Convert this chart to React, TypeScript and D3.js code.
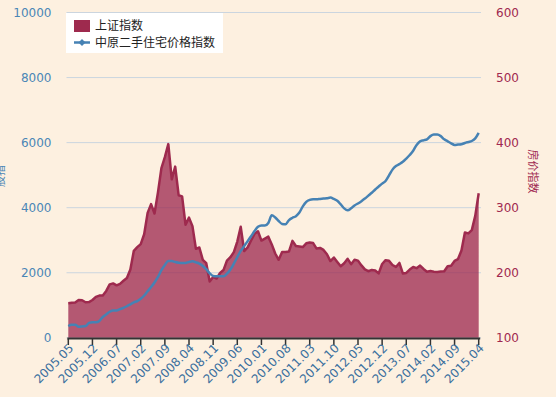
import React from 'react'
import * as d3 from 'd3'

// 2005.05 - 2015.04, monthly
const startYear = 2005
const startMonth = 5

const sseIndex = [
  1060, 1080, 1083, 1162, 1155, 1092, 1099, 1161,
  1258, 1299, 1298, 1440, 1641, 1672, 1612, 1658, 1752, 1837, 2099, 2675,
  2786, 2881, 3183, 3841, 4109, 3820, 4471, 5218, 5552, 5954, 4871, 5262,
  4383, 4348, 3473, 3693, 3433, 2736, 2776, 2397, 2293, 1729, 1871, 1821,
  1991, 2082, 2373, 2477, 2633, 2959, 3412, 2667, 2779, 2996, 3195, 3277,
  2989, 3051, 3109, 2871, 2592, 2398, 2638, 2639, 2656, 2979, 2820, 2808,
  2790, 2905, 2928, 2911, 2743, 2762, 2701, 2568, 2359, 2468, 2333, 2199,
  2292, 2428, 2263, 2397, 2373, 2225, 2103, 2047, 2086, 2069, 1980, 2269,
  2385, 2366, 2237, 2178, 2301, 1979, 1994, 2098, 2175, 2141, 2220, 2116,
  2033, 2056, 2033, 2026, 2039, 2048, 2202, 2217, 2364, 2420, 2683, 3235,
  3210, 3310, 3748, 4442,
]

const housePrice = [
  118, 120, 120, 117, 117.5, 118, 123, 124, 124, 126, 132, 136,
  140, 142, 142, 144, 146, 148.5, 151.5, 154.5, 156.5, 160, 165, 171.5,
  178, 185, 193.5, 204, 212, 218, 218, 216.5, 215.5, 215, 215, 216.5,
  217.5, 216, 214, 210.5, 205.5, 199, 195, 194.5, 194.5, 194.5, 198.5, 205,
  214, 224, 233.5, 241, 248.5, 256, 264, 270.5, 272.5, 272.5, 276.5, 288.5,
  285, 279.5, 275, 274.5, 281, 284.5, 287, 292.5, 302, 309, 312, 313,
  313, 313.5, 314, 314.5, 315.5, 313.5, 310.5, 305, 299, 296, 299, 303.5,
  306.5, 310, 314, 318.5, 323, 328, 332.5, 337, 341, 349.5, 358.5, 364,
  367, 370.5, 375.5, 381, 387.5, 396.5, 402, 403.5, 405, 410, 412.5, 412.5,
  410, 405, 402, 399, 396.5, 397, 397.5, 399.5, 401, 402.5, 406.5, 415,
]

const leftTicks = [0, 2000, 4000, 6000, 8000, 10000]
const rightTicks = [100, 200, 300, 400, 500, 600]
const tickStep = 7

const monthLabel = (i: number) => {
  const m0 = startMonth - 1 + i
  const y = startYear + Math.floor(m0 / 12)
  const m = (m0 % 12) + 1
  return `${y}.${m < 10 ? '0' + m : m}`
}

const W = 556
const H = 397
const M = { left: 68.3, right: 478.7, top: 12.5, bottom: 337.8 }

export default function App() {
  const idx = d3.range(sseIndex.length)
  const x = d3.scaleLinear().domain([0, sseIndex.length - 1]).range([M.left, M.right])
  const yL = d3.scaleLinear().domain([0, 10000]).range([M.bottom, M.top])
  const yR = d3.scaleLinear().domain([100, 600]).range([M.bottom, M.top])

  const area = d3.area<number>().x(i => x(i)).y0(yL(0)).y1(i => yL(sseIndex[i]))
  const top = d3.line<number>().x(i => x(i)).y(i => yL(sseIndex[i]))
  const hp = d3.line<number>().x(i => x(i)).y(i => yR(housePrice[i])).curve(d3.curveMonotoneX)
  const xTicks = idx.filter(i => i % tickStep === 0)

  const tickFont = '"DejaVu Sans", sans-serif'
  const cjk = '"Noto Sans CJK SC", sans-serif'

  return (
    <svg width={W} height={H} style={{ position: 'absolute', left: 0, top: 0, background: '#FDF0E0' }}>
      <rect x={0} y={0} width={W} height={H} fill="#FDF0E0" />
      {leftTicks.map(t => (
        <g key={t}>
          <line x1={66.5} x2={481} y1={yL(t)} y2={yL(t)} stroke="#CBD5DF" strokeWidth={1} />
          <text x={51.5} y={yL(t)} dy="0.36em" textAnchor="end" fontFamily={tickFont} fontSize={12} fill="#4A86B6">{t}</text>
        </g>
      ))}
      {rightTicks.map(t => (
        <text key={t} x={496} y={yR(t)} dy="0.36em" fontFamily={tickFont} fontSize={12} fill="#A0284F">{t}</text>
      ))}
      <path d={area(idx) || ''} fill="#9B264D" fillOpacity={0.75} />
      <path d={top(idx) || ''} fill="none" stroke="#9E2A4E" strokeWidth={2.5} strokeLinejoin="round" />
      <path d={hp(idx) || ''} fill="none" stroke="#4682B4" strokeWidth={2.5} strokeLinejoin="round" />
      <line x1={M.left - 1} x2={M.right + 1.5} y1={338.5} y2={338.5} stroke="#333" strokeWidth={2} />
      {xTicks.map(i => (
        <g key={i} transform={`translate(${x(i)},339)`}>
          <line y1={0} y2={6} stroke="#333" strokeWidth={1.5} />
          <text transform="translate(3,7) rotate(-45)" textAnchor="end" dy="0.35em" fontFamily={tickFont} fontSize={12} fill="#3A6F9E">{monthLabel(i)}</text>
        </g>
      ))}
      <text transform="translate(3.5,176) rotate(-90)" textAnchor="middle" fontFamily={cjk} fontSize={11} fill="#4A86B6">股指</text>
      <text transform="translate(528.5,171.5) rotate(90)" textAnchor="middle" fontFamily={cjk} fontSize={11} fill="#A0284F">房价指数</text>
      <g>
        <rect x={66} y={13} width={157} height={40} fill="#fff" />
        <rect x={74} y={20} width={16} height={12} fill="#9E2A4E" />
        <text x={95} y={26} dy="0.36em" fontFamily={cjk} fontSize={12} fill="#222">上证指数</text>
        <line x1={74} x2={90} y1={42.5} y2={42.5} stroke="#4682B4" strokeWidth={2.5} />
        <path d="M82,39 L85.5,42.5 L82,46 L78.5,42.5 Z" fill="#4682B4" />
        <text x={95} y={42.5} dy="0.36em" fontFamily={cjk} fontSize={12} fill="#222">中原二手住宅价格指数</text>
      </g>
    </svg>
  )
}
